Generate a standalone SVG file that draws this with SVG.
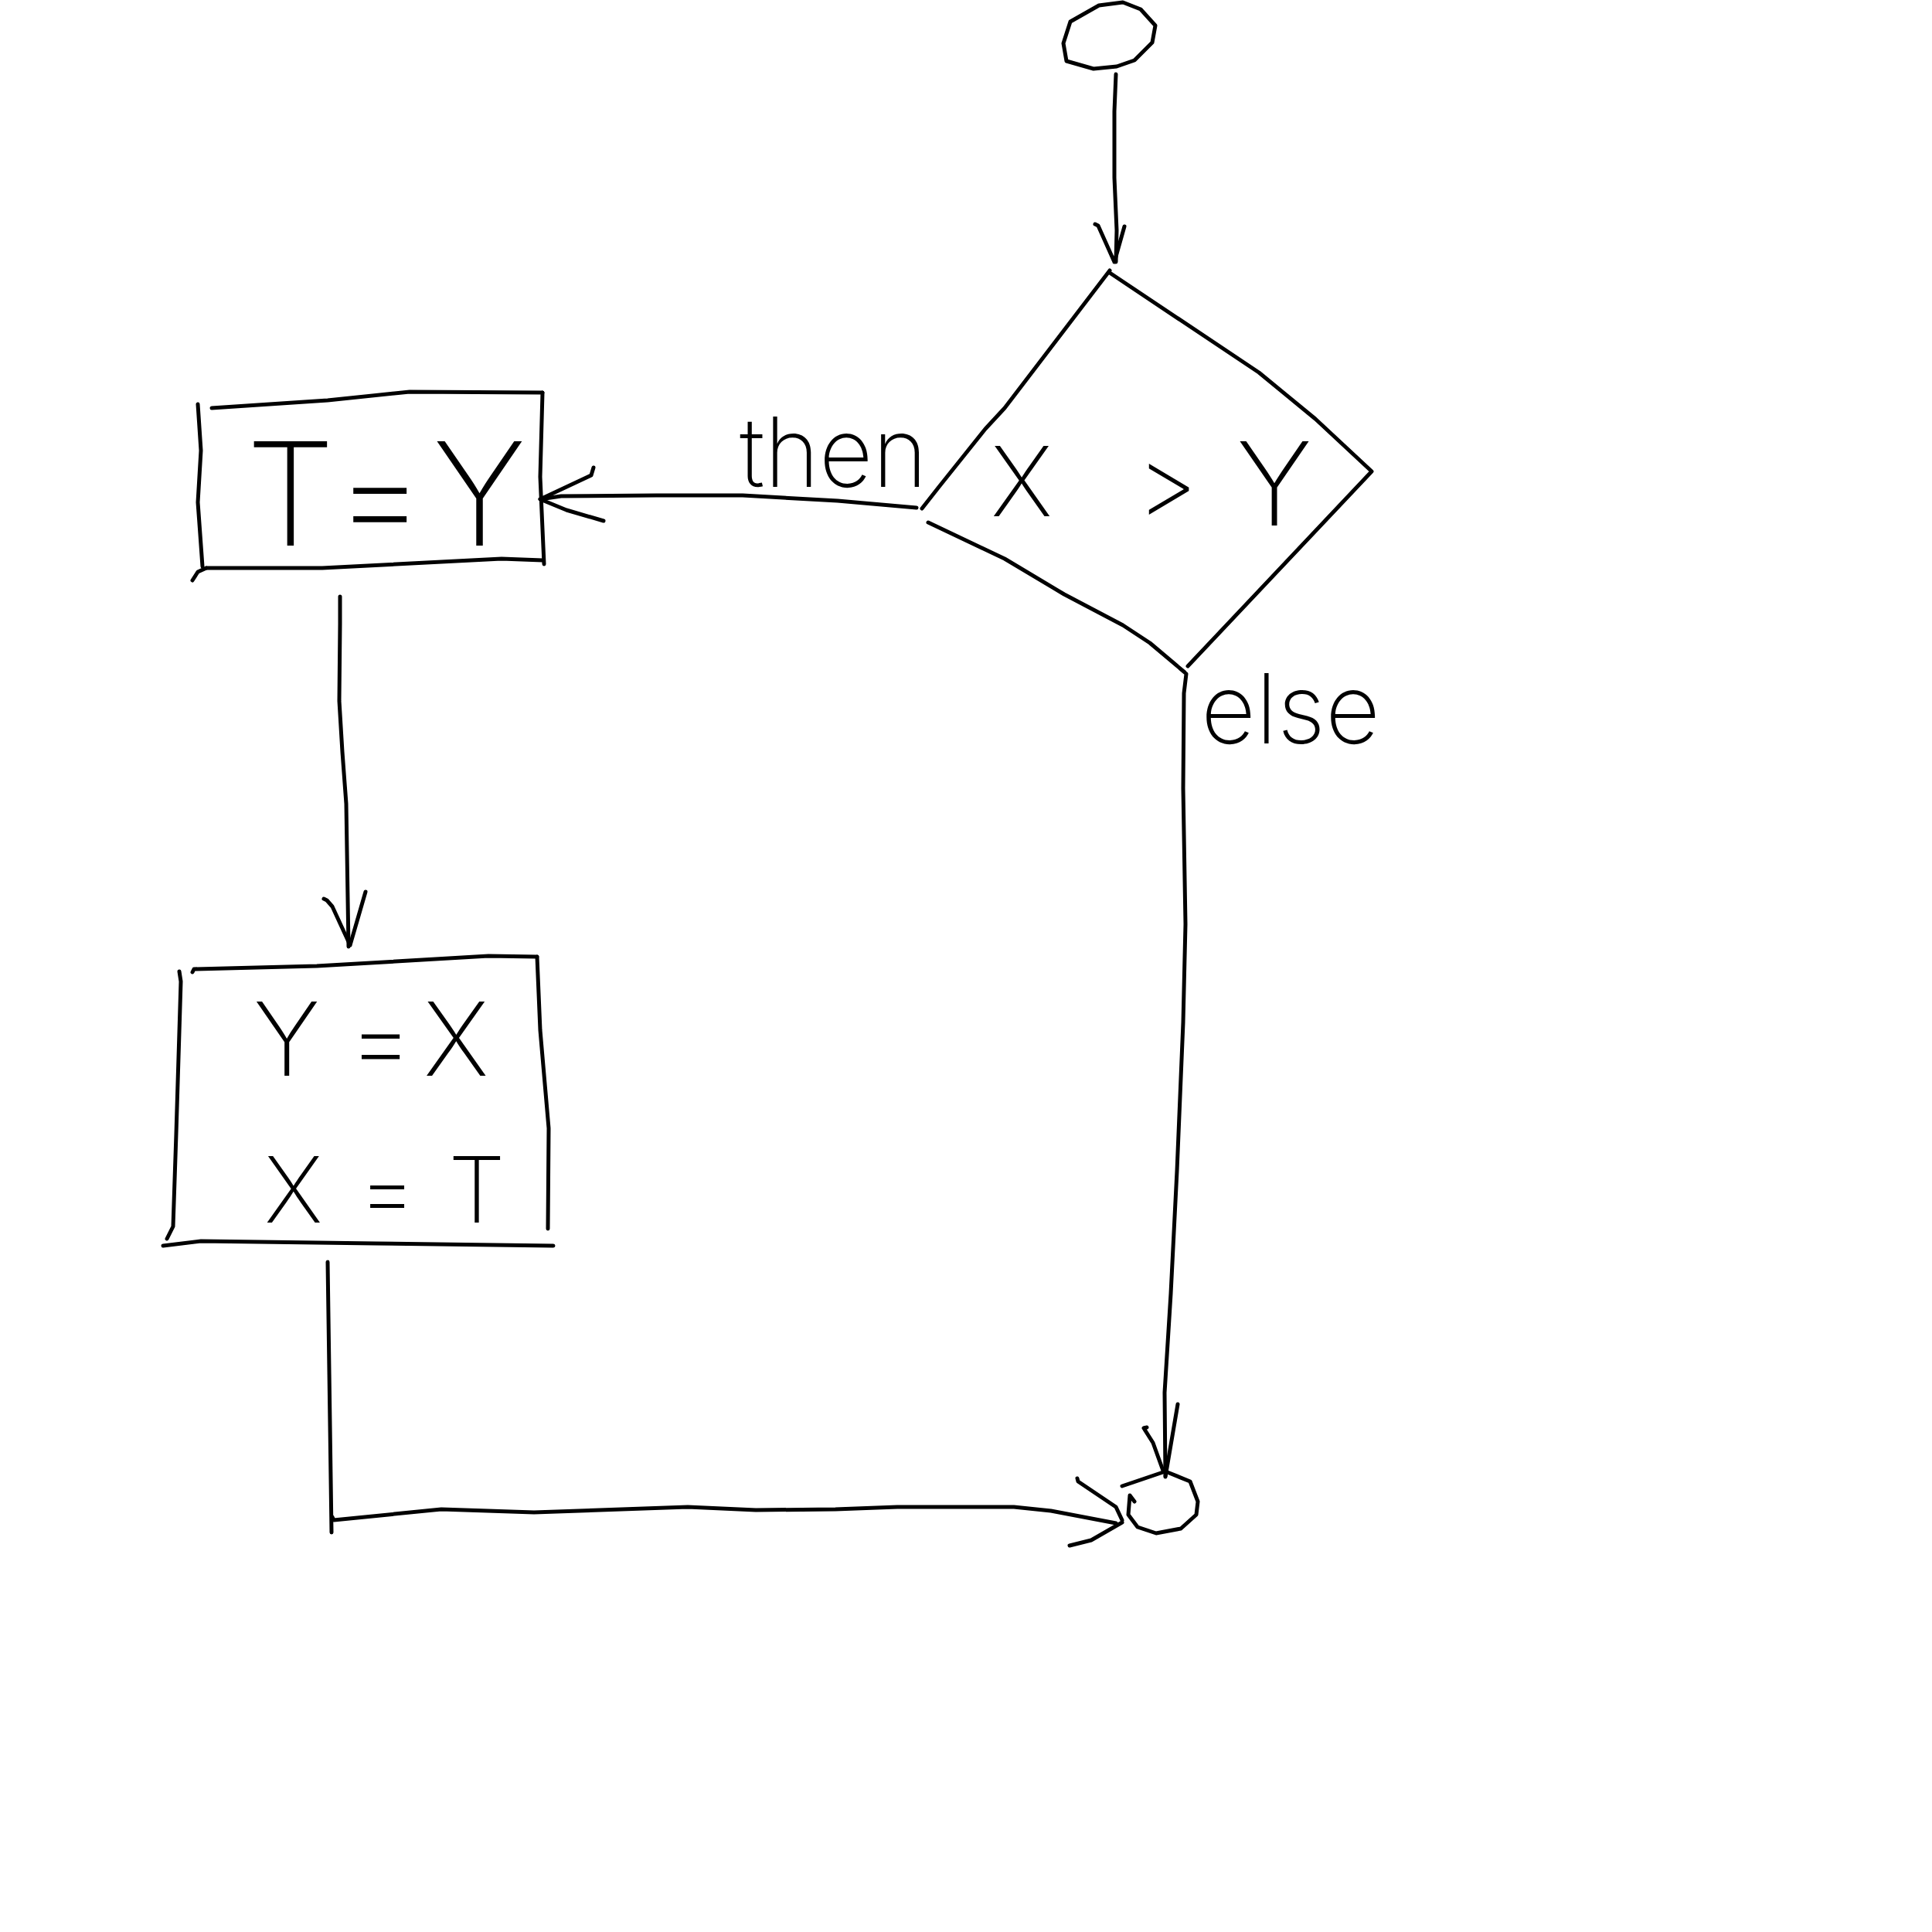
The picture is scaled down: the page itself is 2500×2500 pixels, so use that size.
<svg xmlns="http://www.w3.org/2000/svg" width="2500" height="2500" viewBox="0 0 2500 2500">
  <style>
    .ink { fill: none; stroke: #000; stroke-width: 5; stroke-linecap: round; stroke-linejoin: round; }
    .hand { font-family: Inter, "Open Sans", "Liberation Sans", sans-serif; font-weight: 200; fill: #000; }
  </style>
  <rect x="0" y="0" width="2500" height="2500" fill="#fff"/>

  <!-- start terminal -->
  <g id="start">
    <path class="ink" d="M1385,28 L1422,7 L1453,3 L1476,12 L1495,33 L1491,55 L1468,78 L1445,86 L1415,89 L1380,79 L1376,56 Z"/>
  </g>

  <!-- decision: X > Y -->
  <g id="decision">
    <path class="ink" d="M1436,350 L1300,528 L1275,555 L1215,630 L1193,658"/>
    <path class="ink" d="M1436,353 L1629,482 L1702,542 L1775,610 L1537,862"/>
    <path class="ink" d="M1201,676 L1300,723 L1377,769 L1453,809 L1488,832 L1533,870"/>
    <text class="hand" font-size="125" x="1282 1370 1470 1548 1600" y="668">X &gt; <tspan y="680" font-size="150">Y</tspan></text>
  </g>

  <!-- process: T = Y -->
  <g id="assign-t">
    <path class="ink" d="M274,528 L424,518 L530,507 L702,508"/>
    <path class="ink" d="M256,523 L260,583 L256,650 L262,733 M249,751 L256,740 L267,735"/>
    <path class="ink" d="M267,735 L417,735 L649,723 L702,725"/>
    <path class="ink" d="M702,508 L699,617 L704,730"/>
    <text class="hand" font-size="185" x="318 428 432 520 560" y="706">T = Y</text>
  </g>

  <!-- process: swap -->
  <g id="swap">
    <path class="ink" d="M249,1258 L251,1254 L410,1250 L632,1237 L695,1238"/>
    <path class="ink" d="M695,1238 L699,1333 L710,1460 L709,1590"/>
    <path class="ink" d="M232,1257 L234,1270 L228,1467 L224,1587 L216,1603"/>
    <path class="ink" d="M211,1612 L260,1606 L486,1609 L716,1612"/>
    <text class="hand" font-size="132" x="328 420 450 530 548" y="1392">Y = X</text>
    <text class="hand" font-size="118" x="342 420 463 540 580" y="1582">X = T</text>
  </g>

  <!-- end terminal -->
  <g id="end">
    <path class="ink" d="M1452,1923 L1508,1904 L1540,1917 L1550,1943 L1548,1960 L1528,1978 L1496,1984 L1472,1976 L1460,1960 L1462,1935 L1468,1943"/>
  </g>

  <!-- connectors -->
  <g id="connectors">
    <!-- start to decision -->
    <path class="ink" d="M1444,96 L1442,144 L1442,230 L1445,298 L1444,339"/>
    <path class="ink" d="M1417,290 L1421,292 L1442,339 M1455,293 L1442,339"/>

    <!-- decision to T = Y (then) -->
    <path class="ink" d="M1186,657 L1084,648 L961,641 L849,641 L726,642 L699,646"/>
    <path class="ink" d="M768,605 L765,615 L699,646 L733,660 L781,674"/>
    <text class="hand" font-size="125" x="957" y="630" textLength="243" lengthAdjust="spacingAndGlyphs">then</text>

    <!-- T = Y to swap -->
    <path class="ink" d="M440,772 L440,807 L439,907 L443,973 L448,1040 L451,1225"/>
    <path class="ink" d="M419,1163 L423,1165 L430,1173 L453,1223 M473,1154 L453,1223"/>

    <!-- swap to end -->
    <path class="ink" d="M424,1633 L429,1983"/>
    <path class="ink" d="M430,1963 L432,1967 L571,1953 L691,1957 L890,1950 L978,1954 L1081,1953 L1161,1950 L1312,1950 L1360,1955 L1444,1971"/>
    <path class="ink" d="M1394,1913 L1395,1917 L1444,1950 L1452,1967 M1384,2000 L1412,1993 L1452,1970"/>

    <!-- decision to end (else) -->
    <path class="ink" d="M1535,872 L1532,897 L1531,1020 L1534,1196 L1531,1323 L1523,1515 L1515,1674 L1507,1802 L1508,1910"/>
    <path class="ink" d="M1480,1848 L1484,1847 M1480,1848 L1492,1867 L1505,1903 M1524,1817 L1508,1911"/>
    <text class="hand" font-size="125" x="1554" y="962" textLength="232" lengthAdjust="spacingAndGlyphs">else</text>
  </g>
</svg>
